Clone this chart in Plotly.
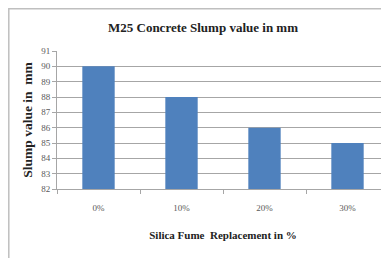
import plotly.graph_objects as go

categories = ["0%", "10%", "20%", "30%"]
slump_values = [90, 88, 86, 85]
y_ticks = [82, 83, 84, 85, 86, 87, 88, 89, 90, 91]

# The page body has an 8px default margin, so the figure is laid out 8px up/left.
OFF = 8
W, H = 389 - OFF, 258 - OFF
L, R, T, B = 57 - OFF, 0, 51 - OFF, 69
pw, ph = W - L - R, H - T - B

def px_x(p):
    return (p - OFF - L) / pw

def px_y(p):
    return (H - B - (p - OFF)) / ph

fig = go.Figure(go.Bar(
    x=categories, y=slump_values,
    marker=dict(color="#4F81BD", line=dict(width=0)),
    width=0.39,
))

fig.add_shape(type="rect", xref="paper", yref="paper",
              x0=px_x(8.8), x1=px_x(400), y0=px_y(270), y1=px_y(8.8),
              line=dict(color="#BFBFBF", width=1.5), fillcolor="rgba(0,0,0,0)", layer="below")

fig.update_layout(
    width=W, height=H,
    margin=dict(l=L, r=R, t=T, b=B, autoexpand=False),
    paper_bgcolor="white", plot_bgcolor="white",
    showlegend=False,
    bargap=0.6,
    title=dict(text="<b>M25 Concrete Slump value in mm</b>",
               font=dict(family="Liberation Serif", size=13, color="#222222"),
               x=(203 - OFF) / W, xanchor="center", y=1 - (27 - OFF) / H, yanchor="middle"),
    font=dict(family="Liberation Serif"),
)

fig.update_xaxes(
    type="category", automargin=False,
    showline=True, linecolor="#A6A6A6", linewidth=1,
    ticks="outside", ticklen=4, tickcolor="#A6A6A6", tickson="boundaries",
    tickfont=dict(family="Liberation Serif", size=9, color="#595959"),
    ticklabelstandoff=10,
    showgrid=False,
    title=dict(text="<b>Silica Fume  Replacement in %</b>",
               font=dict(family="Liberation Serif", size=11, color="#222222"),
               standoff=19),
)

fig.update_yaxes(
    range=[82, 91], tickvals=y_ticks, automargin=False,
    showline=True, linecolor="#A6A6A6", linewidth=1,
    ticks="outside", ticklen=4, tickcolor="#A6A6A6",
    tickfont=dict(family="Liberation Serif", size=9, color="#595959"),
    showgrid=True, gridcolor="#A6A6A6", gridwidth=1,
    zeroline=False,
    title=dict(text="<b>Slump value in  mm</b>",
               font=dict(family="Liberation Serif", size=13.5, color="#222222"),
               standoff=5),
)

fig.write_html("out.html")
